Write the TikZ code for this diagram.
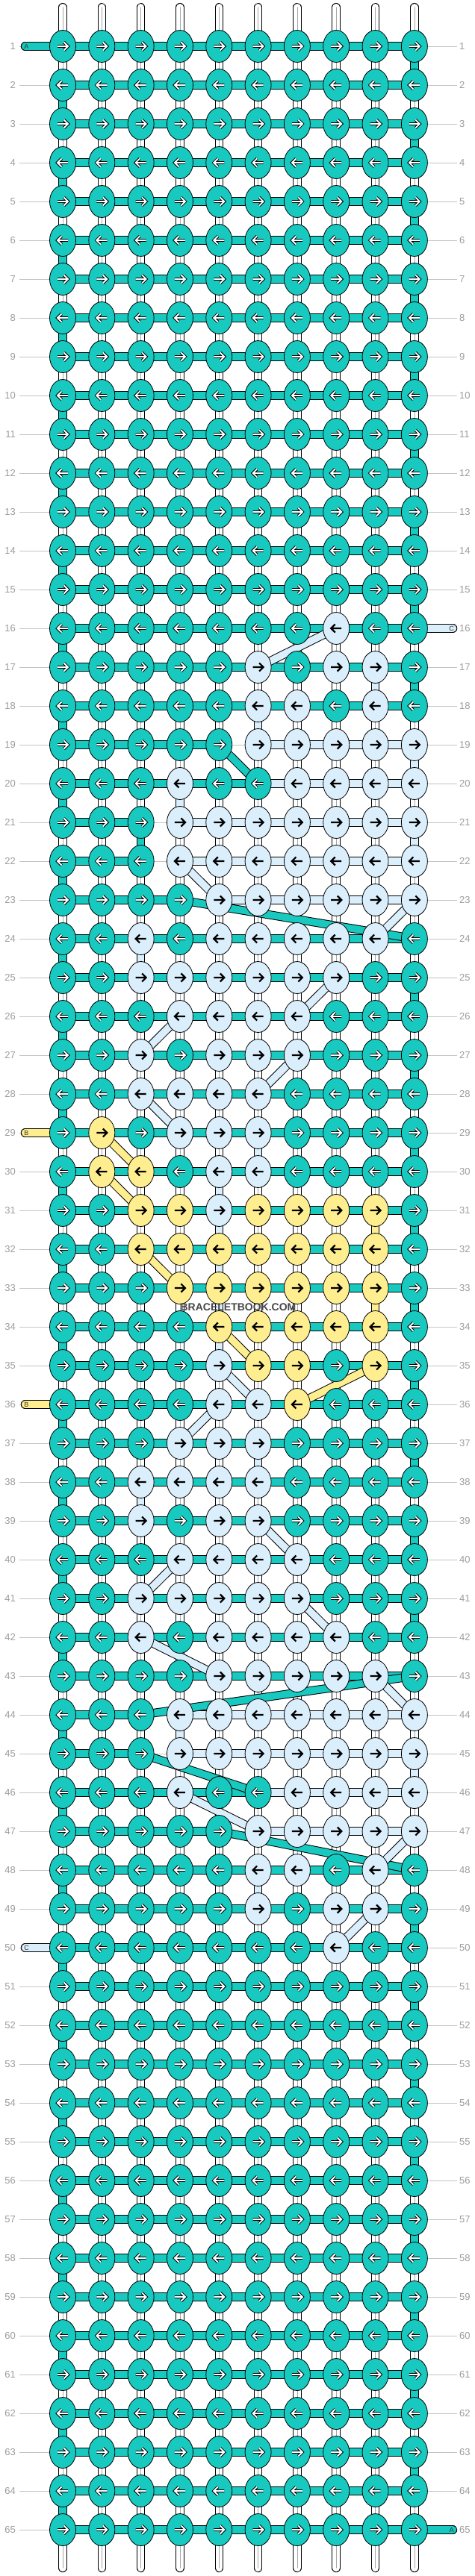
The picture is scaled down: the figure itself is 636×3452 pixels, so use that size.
\documentclass[tikz,border=0pt]{standalone}
\usepackage{fontspec}
\setmainfont{Liberation Sans}
\usetikzlibrary{shapes.geometric,backgrounds}
\definecolor{kT}{HTML}{18C9C0}
\definecolor{kL}{HTML}{DAEEFB}
\definecolor{kY}{HTML}{FFEE8F}
\definecolor{guide}{HTML}{C4C4C4}
\definecolor{lbl}{HTML}{9C9C9C}
% knot colours per row
\def\defk#1#2{\expandafter\def\csname krow#1\endcsname{#2}}
\defk{16}{T,T,T,T,T,T,T,L,T,T}
\defk{17}{T,T,T,T,T,L,T,L,L,T}
\defk{18}{T,T,T,T,T,L,L,T,L,T}
\defk{19}{T,T,T,T,T,L,L,L,L,L}
\defk{20}{T,T,T,L,T,T,L,L,L,L}
\defk{21}{T,T,T,L,L,L,L,L,L,L}
\defk{22}{T,T,T,L,L,L,L,L,L,L}
\defk{23}{T,T,T,T,L,L,L,L,L,L}
\defk{24}{T,T,L,T,L,L,L,L,L,T}
\defk{25}{T,T,L,L,L,L,L,L,T,T}
\defk{26}{T,T,T,L,L,L,L,T,T,T}
\defk{27}{T,T,L,T,L,L,L,T,T,T}
\defk{28}{T,T,L,L,L,L,T,T,T,T}
\defk{29}{T,Y,T,L,L,L,T,T,T,T}
\defk{30}{T,Y,Y,T,L,L,T,T,T,T}
\defk{31}{T,T,Y,Y,L,Y,Y,Y,Y,T}
\defk{32}{T,T,Y,Y,Y,Y,Y,Y,Y,T}
\defk{33}{T,T,T,Y,Y,Y,Y,Y,Y,T}
\defk{34}{T,T,T,T,Y,Y,Y,Y,Y,T}
\defk{35}{T,T,T,T,L,Y,Y,T,Y,T}
\defk{36}{T,T,T,T,L,L,Y,T,T,T}
\defk{37}{T,T,T,L,L,L,T,T,T,T}
\defk{38}{T,T,L,L,L,L,T,T,T,T}
\defk{39}{T,T,L,T,L,L,T,T,T,T}
\defk{40}{T,T,T,L,L,L,L,T,T,T}
\defk{41}{T,T,L,L,L,L,L,T,T,T}
\defk{42}{T,T,L,T,L,L,L,L,T,T}
\defk{43}{T,T,T,T,L,L,L,L,L,T}
\defk{44}{T,T,T,L,L,L,L,L,L,L}
\defk{45}{T,T,T,L,L,L,L,L,L,L}
\defk{46}{T,T,T,L,T,T,L,L,L,L}
\defk{47}{T,T,T,T,T,L,L,L,L,L}
\defk{48}{T,T,T,T,T,L,L,T,L,T}
\defk{49}{T,T,T,T,T,L,T,L,L,T}
\defk{50}{T,T,T,T,T,T,T,L,T,T}
% horizontal bars per row (N = none)
\def\defb#1#2{\expandafter\def\csname brow#1\endcsname{#2}}
\defb{19}{T,T,T,T,N,L,L,L,L}
\defb{20}{T,T,T,T,T,L,L,L,L}
\defb{21}{T,T,N,L,L,L,L,L,L}
\defb{22}{T,T,N,L,L,L,L,L,L}
\defb{23}{T,T,T,N,L,L,L,L,L}
\defb{44}{T,T,N,L,L,L,L,L,L}
\defb{45}{T,T,N,L,L,L,L,L,L}
\defb{46}{T,T,T,T,T,L,L,L,L}
\defb{47}{T,T,T,T,N,L,L,L,L}
% vertical links below row r
\def\defv#1#2{\expandafter\def\csname vgap#1\endcsname{#2}}
\defv{17}{W,W,W,W,W,W,W,W,L,T}
\defv{18}{T,W,W,W,W,L,W,W,W,W}
\defv{19}{W,W,W,W,W,W,W,W,W,L}
\defv{20}{T,W,W,L,W,W,W,W,W,W}
\defv{21}{W,W,T,W,W,W,W,W,W,L}
\defv{23}{W,W,W,W,W,W,W,W,W,W}
\defv{24}{T,W,L,W,W,W,W,W,W,W}
\defv{29}{W,W,W,W,W,L,W,W,W,T}
\defv{30}{T,W,W,W,L,W,W,W,W,W}
\defv{31}{W,W,W,W,L,W,W,W,Y,T}
\defv{32}{T,W,W,W,L,W,W,W,W,W}
\defv{33}{W,W,W,W,L,W,W,W,Y,T}
\defv{34}{T,W,W,W,L,W,W,W,W,W}
\defv{37}{W,W,W,W,W,L,W,W,W,T}
\defv{38}{T,W,L,W,W,W,W,W,W,W}
\defv{43}{W,W,W,W,W,W,W,W,W,W}
\defv{44}{T,W,W,L,W,W,W,W,W,W}
\defv{45}{W,W,W,W,W,W,W,W,W,L}
\defv{47}{W,W,W,W,W,W,W,W,W,W}
\defv{48}{T,W,W,W,W,L,W,W,W,W}
\begin{document}
\begin{tikzpicture}[x=1pt,y=-1pt,
  knot/.style={ellipse,draw=black,line width=0.8pt,minimum width=35pt,minimum height=43pt,inner sep=0pt},
  arrT/.style={draw=white,line width=1.9pt,preaction={draw=black,line width=3.9pt}},
  arrL/.style={draw=black,line width=2.2pt},
  arrY/.style={draw=black,line width=2.2pt},
  hT/.style={draw=kT,line width=9.5pt,preaction={draw=black,line width=11.5pt}},
  hL/.style={draw=kL,line width=9.5pt,preaction={draw=black,line width=11.5pt}},
  hY/.style={draw=kY,line width=9.5pt,preaction={draw=black,line width=11.5pt}},
  hN/.style={draw=none},
  hW/.style={draw=white,line width=9.5pt,preaction={draw=black,line width=11.5pt},postaction={draw=black!35,line width=0.7pt}},
  tail/.style={draw=white,line width=9.5pt,line cap=round,preaction={draw=black,line width=11.5pt,line cap=round},postaction={draw=black!35,line width=0.7pt}},
  stubT/.style={draw=kT,line width=9.5pt,line cap=round,preaction={draw=black,line width=11.5pt,line cap=round}},
  stubL/.style={draw=kL,line width=9.5pt,line cap=round,preaction={draw=black,line width=11.5pt,line cap=round}},
  stubY/.style={draw=kY,line width=9.5pt,line cap=round,preaction={draw=black,line width=11.5pt,line cap=round}},
  guideline/.style={draw=guide,line width=0.9pt},
  rowlbl/.style={text=lbl,font=\fontsize{13}{13}\selectfont,inner sep=0pt},
  stublbl/.style={text=black!80,font=\fontsize{9}{9}\selectfont,inner sep=0pt}
]
\useasboundingbox (0,0) rectangle (636,3452);
% knots
\foreach \rr in {1,...,65}{%
  \ifcsname krow\rr\endcsname\edef\rowspec{\csname krow\rr\endcsname}\else\def\rowspec{T,T,T,T,T,T,T,T,T,T}\fi
  \ifodd\rr\relax\def\dd{1}\else\def\dd{-1}\fi
  \foreach \kk [count=\cc] in \rowspec {%
    \node[knot,fill=k\kk] (k-\rr-\cc) at ({84+52.32*(\cc-1)},{62+52*(\rr-1)}) {};
    \draw[arr\kk,shift={(k-\rr-\cc.center)}] (-7*\dd,0) -- (7*\dd,0) (1.5*\dd,-5.5) -- (7*\dd,0) -- (1.5*\dd,5.5);
  }
  \coordinate (gl-\rr) at (26,{62+52*(\rr-1)});
  \coordinate (gr-\rr) at (612,{62+52*(\rr-1)});
  \node[rowlbl,anchor=east] (ll-\rr) at (21,{62+52*(\rr-1)}) {\rr};
  \node[rowlbl,anchor=west] (lr-\rr) at (615,{62+52*(\rr-1)}) {\rr};
}
\foreach \cc in {1,...,10}{%
  \coordinate (tt-\cc) at ({84+52.32*(\cc-1)},9.75);
  \coordinate (tb-\cc) at ({84+52.32*(\cc-1)},3441.25);
}
\coordinate (sl-1) at (33.5,62);
\coordinate (sl-29) at (33.5,1518);
\coordinate (sl-36) at (33.5,1882);
\coordinate (sl-50) at (33.5,2610);
\coordinate (sr-16) at (606.5,842);
\coordinate (sr-65) at (606.5,3390);
\begin{pgfonlayer}{background}
  \foreach \rr in {1,...,65}{\draw[guideline] (gl-\rr) -- (gr-\rr);}
  \foreach \cc in {1,...,10}{%
    \draw[tail] (tt-\cc) -- (k-1-\cc.center);
    \draw[tail] (k-65-\cc.center) -- (tb-\cc);
  }
  % vertical links
  \foreach \rr in {1,...,64}{%
    \pgfmathtruncatemacro\rn{\rr+1}%
    \ifcsname vgap\rr\endcsname\edef\vspec{\csname vgap\rr\endcsname}\else
      \ifodd\rr\relax\def\vspec{W,W,W,W,W,W,W,W,W,T}\else\def\vspec{T,W,W,W,W,W,W,W,W,W}\fi
    \fi
    \foreach \vv [count=\cc] in \vspec {\draw[h\vv] (k-\rr-\cc.center) -- (k-\rn-\cc.center);}
  }
  % horizontal bars
  \foreach \rr in {1,...,65}{%
    \ifcsname brow\rr\endcsname\edef\bspec{\csname brow\rr\endcsname}\else\def\bspec{T,T,T,T,T,T,T,T,T}\fi
    \foreach \bb [count=\cc] in \bspec {\pgfmathtruncatemacro\cn{\cc+1}\draw[h\bb] (k-\rr-\cc.center) -- (k-\rr-\cn.center);}
  }
  % diagonal strands
  \foreach \dc/\ca/\ra/\cb/\rb in {L/8/16/6/17, T/5/19/6/20, L/4/22/5/23, T/4/23/10/24, L/10/23/9/24,
      L/8/25/7/26, L/4/26/3/27, L/7/27/6/28, L/3/28/4/29, Y/2/29/3/30, Y/2/30/3/31, Y/3/32/4/33,
      Y/5/34/6/35, L/5/35/6/36, Y/9/35/7/36, L/5/36/4/37, L/6/39/7/40, L/4/40/3/41, L/7/41/8/42,
      L/3/42/5/43, T/10/43/3/44, L/9/43/10/44, T/3/45/6/46, L/4/46/6/47, T/5/47/10/48, L/10/47/9/48,
      L/9/49/8/50}{%
    \draw[h\dc] (k-\ra-\ca.center) -- (k-\rb-\cb.center);
  }
  % loose ends
  \draw[stubT] (sl-1) -- (k-1-1.center);
  \draw[stubY] (sl-29) -- (k-29-1.center);
  \draw[stubY] (sl-36) -- (k-36-1.center);
  \draw[stubL] (sl-50) -- (k-50-1.center);
  \draw[stubL] (sr-16) -- (k-16-10.center);
  \draw[stubT] (sr-65) -- (k-65-10.center);
\end{pgfonlayer}
\node[stublbl] (a-1) at (35.5,62) {A};
\node[stublbl] (b-29) at (35.5,1518) {B};
\node[stublbl] (b-36) at (35.5,1882) {B};
\node[stublbl] (c-50) at (35.5,2610) {C};
\node[stublbl] (c-16) at (604.5,842) {C};
\node[stublbl] (a-65) at (604.5,3390) {A};
\node[font=\bfseries\fontsize{14}{14}\selectfont,text=black!72,inner sep=0pt] (wm) at (319,1752) {BRACELETBOOK.COM};
\end{tikzpicture}
\end{document}
